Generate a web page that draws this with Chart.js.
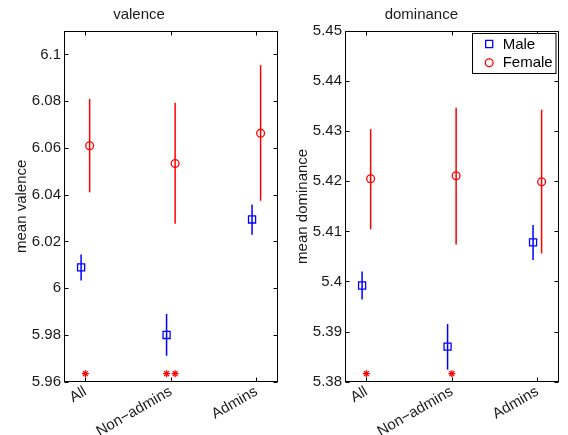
<!DOCTYPE html>
<html>
<head>
<meta charset="utf-8">
<script src="https://cdn.jsdelivr.net/npm/chart.js@4.4.0/dist/chart.umd.min.js"></script>
<style>
  body { margin: 0; background: #fff; }
  #wrap { position: relative; width: 568px; height: 435px; }
  canvas { position: absolute; top: 0; }
</style>
</head>
<body>
<div id="wrap">
  <canvas id="valenceChart" width="284" height="435" style="left:0"></canvas>
  <canvas id="dominanceChart" width="284" height="435" style="left:284px"></canvas>
</div>
<script>
// categories and series
var groups = ["All", "Non\u2212admins", "Admins"];
var seriesNames = ["Male", "Female"];

// valence
var valenceMale = [6.0089, 5.9800, 6.0294];
var valenceMaleLow = [6.0033, 5.9711, 6.0229];
var valenceMaleHigh = [6.0144, 5.9890, 6.0358];
var valenceFemale = [6.0609, 6.0533, 6.0663];
var valenceFemaleLow = [6.0410, 6.0276, 6.0374];
var valenceFemaleHigh = [6.0809, 6.0793, 6.0954];
var valenceStars = [1, 2, 0];
var valenceTicks = [5.96, 5.98, 6, 6.02, 6.04, 6.06, 6.08, 6.1];

// dominance
var dominanceMale = [5.3992, 5.3870, 5.4078];
var dominanceMaleLow = [5.3964, 5.3824, 5.4043];
var dominanceMaleHigh = [5.4020, 5.3915, 5.4113];
var dominanceFemale = [5.4205, 5.4211, 5.4199];
var dominanceFemaleLow = [5.4104, 5.4074, 5.4056];
var dominanceFemaleHigh = [5.4304, 5.4347, 5.4343];
var dominanceStars = [1, 1, 0];
var dominanceTicks = [5.38, 5.39, 5.40, 5.41, 5.42, 5.43, 5.44, 5.45];

var FONT = "'Liberation Sans', Arial, Helvetica, sans-serif";
var TEXT = "#1a1a1a";
var BLUE = "#0000ff";
var RED = "#ff0000";

// vertical error bars, drawn under the markers
var errorBars = {
  id: "errorBars",
  beforeDatasetsDraw: function (chart) {
    var ctx = chart.ctx;
    var xs = chart.scales.x, ys = chart.scales.y;
    chart.data.datasets.forEach(function (ds) {
      if (!ds.low) return;
      ctx.save();
      ctx.strokeStyle = ds.borderColor;
      ctx.lineWidth = 1.5;
      ds.data.forEach(function (p, i) {
        var x = xs.getPixelForValue(p.x);
        ctx.beginPath();
        ctx.moveTo(x, ys.getPixelForValue(ds.low[i]));
        ctx.lineTo(x, ys.getPixelForValue(ds.high[i]));
        ctx.stroke();
      });
      ctx.restore();
    });
  }
};

// matlab style box with inward ticks on all sides
var axesBox = {
  id: "axesBox",
  afterDraw: function (chart) {
    var ctx = chart.ctx, a = chart.chartArea;
    var xs = chart.scales.x, ys = chart.scales.y;
    var L = Math.round(a.left) + 0.5, R = Math.round(a.right) - 0.5;
    var T = Math.round(a.top) + 0.5, B = Math.round(a.bottom) - 0.5;
    ctx.save();
    ctx.strokeStyle = "#000";
    ctx.lineWidth = 1;
    ctx.strokeRect(L, T, R - L, B - T);
    ctx.beginPath();
    ys.ticks.forEach(function (t) {
      var y = Math.round(ys.getPixelForValue(t.value)) + 0.5;
      ctx.moveTo(L, y); ctx.lineTo(L + 4, y);
      ctx.moveTo(R, y); ctx.lineTo(R - 4, y);
    });
    xs.ticks.forEach(function (t) {
      var x = Math.round(xs.getPixelForValue(t.value)) + 0.5;
      ctx.moveTo(x, B); ctx.lineTo(x, B - 4);
      ctx.moveTo(x, T); ctx.lineTo(x, T + 4);
    });
    ctx.stroke();
    ctx.restore();
  }
};

// boxed legend in the upper right corner
var boxLegend = {
  id: "boxLegend",
  afterDraw: function (chart) {
    if (!chart.options.plugins.boxLegend.show) return;
    var ctx = chart.ctx, a = chart.chartArea;
    var w = 83.5, h = 40;
    var left = a.right - w - 3, top = a.top + 2;
    ctx.save();
    ctx.fillStyle = "#fff";
    ctx.fillRect(left, top, w, h);
    ctx.strokeStyle = "#000";
    ctx.lineWidth = 1;
    ctx.strokeRect(Math.round(left) + 0.5, Math.round(top) + 0.5, w, h);
    ctx.font = "15px " + FONT;
    ctx.textBaseline = "middle";
    seriesNames.forEach(function (name, i) {
      var ds = chart.data.datasets[i];
      var y = top + 11 + i * 18.7;
      ctx.strokeStyle = ds.borderColor;
      ctx.fillStyle = "rgba(0,0,0,0)";
      ctx.lineWidth = ds.borderWidth;
      Chart.helpers.drawPoint(ctx, { pointStyle: ds.pointStyle, radius: ds.pointRadius, borderWidth: ds.borderWidth, rotation: 0 }, left + 17, y);
      ctx.fillStyle = "#000";
      ctx.fillText(name, left + 30.5, y + 0.5);
    });
    ctx.restore();
  }
};

function starPoints(counts, ymin, ymax) {
  var pts = [];
  counts.forEach(function (n, i) {
    for (var k = 0; k < n; k++) {
      pts.push({ x: i + 1 + (k - (n - 1) / 2) * 0.1, y: ymin + 0.023 * (ymax - ymin) });
    }
  });
  return pts;
}

function makeChart(id, cfg) {
  var ymin = cfg.ticks[0];
  var ymax = cfg.ymax;
  return new Chart(document.getElementById(id), {
    type: "scatter",
    data: {
      datasets: [
        {
          label: seriesNames[0],
          data: groups.map(function (g, i) { return { x: i + 1 - 0.05, y: cfg.male[i] }; }),
          low: cfg.maleLow, high: cfg.maleHigh,
          pointStyle: "rect", pointRadius: 5, borderWidth: 1.3,
          borderColor: BLUE, backgroundColor: "rgba(0,0,0,0)"
        },
        {
          label: seriesNames[1],
          data: groups.map(function (g, i) { return { x: i + 1 + 0.05, y: cfg.female[i] }; }),
          low: cfg.femaleLow, high: cfg.femaleHigh,
          pointStyle: "circle", pointRadius: 3.9, borderWidth: 1.3,
          borderColor: RED, backgroundColor: "rgba(0,0,0,0)"
        },
        {
          label: "significance",
          data: starPoints(cfg.stars, ymin, ymax),
          pointStyle: "star", pointRadius: 3.5, borderWidth: 1.3,
          borderColor: RED, backgroundColor: RED
        }
      ]
    },
    options: {
      responsive: false,
      devicePixelRatio: 1,
      animation: false,
      layout: { padding: { left: 0, right: cfg.padRight, top: 0, bottom: 0 } },
      plugins: {
        legend: { display: false },
        tooltip: { enabled: false },
        title: {
          display: true, text: cfg.title, color: TEXT,
          font: { family: FONT, size: 15, weight: "normal", lineHeight: 1.2 },
          padding: { top: 6, bottom: 7 }
        },
        boxLegend: { show: cfg.legend }
      },
      scales: {
        x: {
          type: "linear", min: 0.75, max: 3.25,
          afterBuildTicks: function (s) { s.ticks = groups.map(function (g, i) { return { value: i + 1 }; }); },
          afterFit: function (s) { s.height = 53.3; },
          grid: { display: false, drawTicks: false },
          border: { display: false },
          ticks: {
            autoSkip: false, minRotation: 30, maxRotation: 30, padding: 1,
            color: TEXT, font: { family: FONT, size: 15 },
            callback: function (v) { return groups[Math.round(v) - 1]; }
          }
        },
        y: {
          min: ymin, max: ymax,
          afterBuildTicks: function (s) { s.ticks = cfg.ticks.map(function (v) { return { value: v }; }); },
          afterFit: function (s) { s.width = cfg.yWidth; },
          grid: { display: false, drawTicks: false },
          border: { display: false },
          title: {
            display: true, text: cfg.yTitle, color: TEXT,
            font: { family: FONT, size: 15 }, padding: { top: cfg.yTitlePad, bottom: 0 }
          },
          ticks: {
            padding: 3, color: TEXT, font: { family: FONT, size: 15 },
            callback: function (v) { return String(+v.toFixed(2)); }
          }
        }
      }
    },
    plugins: [errorBars, axesBox, boxLegend]
  });
}

makeChart("valenceChart", {
  title: "valence", yTitle: "mean valence",
  male: valenceMale, maleLow: valenceMaleLow, maleHigh: valenceMaleHigh,
  female: valenceFemale, femaleLow: valenceFemaleLow, femaleHigh: valenceFemaleHigh,
  stars: valenceStars, ticks: valenceTicks, ymax: 6.11,
  yWidth: 64, padRight: 6, yTitlePad: 13, legend: false
});

makeChart("dominanceChart", {
  title: "dominance", yTitle: "mean dominance",
  male: dominanceMale, maleLow: dominanceMaleLow, maleHigh: dominanceMaleHigh,
  female: dominanceFemale, femaleLow: dominanceFemaleLow, femaleHigh: dominanceFemaleHigh,
  stars: dominanceStars, ticks: dominanceTicks, ymax: 5.45,
  yWidth: 61, padRight: 9.3, yTitlePad: 10, legend: true
});
</script>
</body>
</html>
